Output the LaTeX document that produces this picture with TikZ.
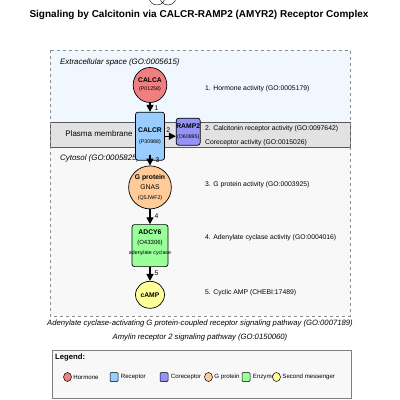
\documentclass[tikz,border=0pt]{standalone}
\usepackage{fontspec}
\setmainfont{Liberation Sans}
\usepackage{tikz}
\usetikzlibrary{arrows.meta, shapes.geometric, positioning}

\definecolor{hormone}{HTML}{F08080}
\definecolor{receptor}{HTML}{99CCFF}
\definecolor{corecept}{HTML}{9494F8}
\definecolor{gprot}{HTML}{FFCC99}
\definecolor{enzyme}{HTML}{99FF99}
\definecolor{messenger}{HTML}{FFFF99}
\definecolor{extracell}{HTML}{F0F7FF}
\definecolor{membrane}{HTML}{E2E2E2}
\definecolor{cytosol}{HTML}{F8F8F8}

\newcommand{\fs}[1]{\fontsize{#1}{#1}\selectfont}

\begin{document}
\begin{tikzpicture}[x=1pt, y=-1pt,
    every node/.style = {font=\fs{6.8}, inner sep=0pt},
    mol/.style    = {draw=black, line width=0.7pt, align=center},
    blob/.style   = {mol, ellipse},
    boxmol/.style = {mol, rectangle, rounded corners=2.5pt},
    flow/.style   = {line width=1.3pt, -{Triangle[length=7pt,width=7pt]}},
    num/.style    = {font=\fs{6.8}},
    note/.style   = {anchor=west, font=\fs{6.8}},
    region/.style = {anchor=west, font=\fs{7.9}\itshape},
    key/.style    = {draw=black, line width=0.5pt, minimum width=8pt, minimum height=9pt},
    keytext/.style= {anchor=west, font=\fs{6.1}},
  ]
  \useasboundingbox (0,0) rectangle (400,400);

  % compartments
  \fill[extracell] (50,50) rectangle (350,122);
  \fill[cytosol] (50,147) rectangle (350,316);
  \filldraw[fill=membrane, draw=black!65, line width=0.6pt] (50,122) rectangle (350,147);
  \draw[black!45, dashed, line width=0.6pt] (50,50) rectangle (350,316);
  \draw (157,-3) circle (8pt) (168,-3) circle (8pt);

  \node[font=\fs{10}\bfseries] (title) at (199,15)
    {Signaling by Calcitonin via CALCR-RAMP2 (AMYR2) Receptor Complex};
  \node[region] (extra) at (60,62) {Extracellular space (GO:0005615)};
  \node[font=\fs{8}] (memb) at (99,134) {Plasma membrane};
  \node[region] (cyto) at (60,158) {Cytosol (GO:0005825)};

  % molecules
  \node[blob, fill=hormone, minimum width=31pt, minimum height=35pt] (calca) at (150,85)
    {\textbf{CALCA}\\[1.5pt]{\fs{5.3}(P01258)}};
  \node[boxmol, fill=receptor, minimum width=29pt, minimum height=48pt, below=9pt of calca] (calcr)
    {\textbf{CALCR}\\[4pt]{\fs{5.3}(P30988)}};
  \node[boxmol, fill=corecept, minimum width=24pt, minimum height=27pt, right=11pt of calcr, yshift=4.5pt] (ramp2)
    {\textbf{RAMP2}\\[4pt]{\fs{5.3}(O60895)}};
  \node[blob, fill=gprot, minimum width=35pt, minimum height=43pt, below=5pt of calcr] (gprotein)
    {\textbf{G protein}\\[3pt]GNAS\\[3pt]{\fs{5.3}(Q5JWF2)}};
  \node[boxmol, fill=enzyme, minimum width=36pt, minimum height=42pt, below=15pt of gprotein] (adcy6)
    {\textbf{ADCY6}\\[4pt]{\fs{6}(O43306)}\\[10pt]};
  \node[font=\fs{5.3}, below=1pt of adcy6.center, yshift=-4pt] (adcy6name) {adenylate cyclase};
  \node[blob, fill=messenger, minimum width=29pt, minimum height=27pt, below=14pt of adcy6] (camp)
    {\textbf{cAMP}};

  % reactions
  \draw[flow] (calca.south) -- (calcr.north) node[num, pos=0.55, right=4pt] {1};
  \draw[flow] (calcr.east) -- (calcr.east -| ramp2.west) node[num, pos=0.3, above=3pt] {2};
  \draw[flow] ([yshift=6pt]calcr.south) -- (gprotein.north) node[num, pos=0.5, right=5pt] {3};
  \draw[flow] (gprotein.south) -- (adcy6.north) node[num, pos=0.45, right=4pt] {4};
  \draw[flow] (adcy6.south) -- (camp.north) node[num, pos=0.45, right=4pt] {5};

  % activities
  \node[note] (n1) at (205,89) {1. Hormone activity (GO:0005179)};
  \node[note] (n2) at (205,129) {2. Calcitonin receptor activity (GO:0097642)};
  \node[note] (n2b) at (205,143) {Coreceptor activity (GO:0015026)};
  \node[note] (n3) at (205,185) {3. G protein activity (GO:0003925)};
  \node[note] (n4) at (205,238) {4. Adenylate cyclase activity (GO:0004016)};
  \node[note] (n5) at (205,293) {5. Cyclic AMP (CHEBI:17489)};

  % pathways
  \node[font=\fs{7.7}\itshape] (path1) at (200,324)
    {Adenylate cyclase-activating G protein-coupled receptor signaling pathway (GO:0007189)};
  \node[font=\fs{7.7}\itshape] (path2) at (200,338)
    {Amylin receptor 2 signaling pathway (GO:0150060)};

  % legend
  \node[draw=black!50, fill=cytosol, line width=0.7pt, minimum width=299pt, minimum height=48pt] (legend) at (201.5,374) {};
  \node[anchor=west, font=\fs{7.7}\bfseries] (legtitle) at (55,358) {Legend:};
  \node[key, ellipse, fill=hormone] (k1) at (67.5,377) {};
  \node[keytext, right=1.5pt of k1] (t1) {Hormone};
  \node[key, rounded corners=1pt, fill=receptor] (k2) at (114,377) {};
  \node[keytext, right=2.5pt of k2] (t2) {Receptor};
  \node[key, rounded corners=1pt, fill=corecept] (k3) at (164,377) {};
  \node[keytext, right=2.5pt of k3] (t3) {Coreceptor};
  \node[key, ellipse, fill=gprot] (k4) at (208.5,377) {};
  \node[keytext, right=1.5pt of k4] (t4) {G protein};
  \node[key, rounded corners=1pt, fill=enzyme] (k5) at (246,377) {};
  \node[keytext, right=2.5pt of k5] (t5) {Enzyme};
  \node[key, ellipse, fill=messenger] (k6) at (276.5,377) {};
  \node[keytext, right=1.5pt of k6] (t6) {Second messenger};
\end{tikzpicture}
\end{document}
